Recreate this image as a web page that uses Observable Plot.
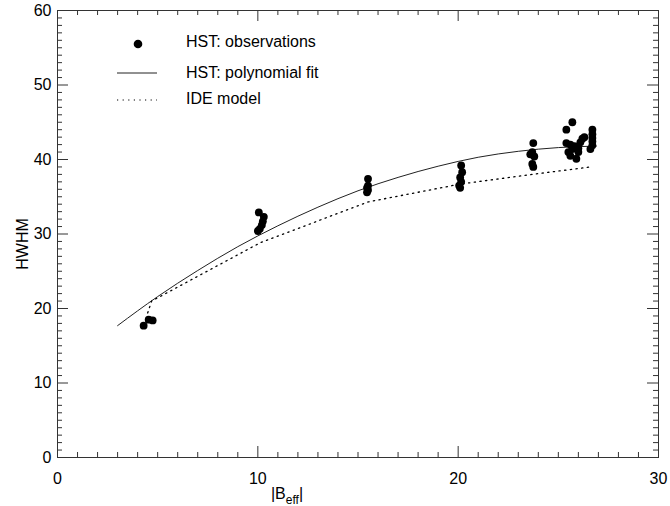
<!DOCTYPE html>
<html>
<head>
<meta charset="utf-8">
<script src="https://cdn.jsdelivr.net/npm/d3@7"></script>
<script src="https://cdn.jsdelivr.net/npm/@observablehq/plot@0.6"></script>
<style>
  body { margin: 0; background: #fff; }
  #chart svg { display: block; }
</style>
</head>
<body>
<div id="chart"></div>
<script>
// Observations (HST)
const obsX = [4.3, 4.55, 4.75,
  10.05, 10.3, 10.25, 10.2, 10.1, 10.0,
  15.5, 15.5, 15.45, 15.5, 15.45,
  20.15, 20.2, 20.1, 20.15, 20.05, 20.1,
  23.75, 23.7, 23.6, 23.8, 23.7, 23.75,
  25.4, 25.7, 25.4, 25.6, 25.7, 25.5, 25.6, 25.9, 25.8, 26.0, 26.1, 26.2, 26.3, 26.0,
  26.7, 26.7, 26.7, 26.7, 26.7, 26.6];
const obsY = [17.7, 18.5, 18.4,
  32.9, 32.3, 31.7, 31.2, 30.7, 30.4,
  37.4, 36.5, 36.2, 35.9, 35.6,
  39.2, 38.3, 37.6, 37.0, 36.5, 36.2,
  42.2, 41.0, 40.7, 40.4, 39.4, 39.0,
  44.0, 45.0, 42.2, 42.0, 41.4, 41.0, 40.5, 40.1, 41.8, 41.5, 42.3, 42.8, 43.0, 41.0,
  44.0, 43.4, 42.9, 42.4, 41.9, 41.4];

// HST polynomial fit
const fitX = [3, 5, 7, 9, 11, 13, 15, 17, 19, 21, 23, 25, 26.9];
const fitY = [17.7, 21.6, 25.1, 28.3, 31.1, 33.6, 35.8, 37.6, 39.1, 40.3, 41.1, 41.6, 41.8];

// IDE model
const ideX = [4.5, 4.7, 10.1, 15.5, 20.1, 23.7, 26.6];
const ideY = [19.4, 21.0, 28.8, 34.3, 36.7, 38.0, 39.0];

// Ticks
const xMajorTicks = [0, 10, 20, 30];
const yMajorTicks = [0, 10, 20, 30, 40, 50, 60];
const xMinorTicks = d3.range(1, 30).filter(v => v % 10 !== 0);
const yMinorTicks = d3.range(1, 60).filter(v => v % 10 !== 0);

const legendLabels = ["HST: observations", "HST: polynomial fit", "IDE model"];

const W = 670, H = 506;
const mL = 57, mR = 12, mT = 10, mB = 49;
const iW = W - mL - mR, iH = H - mT - mB;
const minorLen = 5, majorLen = 11;
const axisColor = "#333";
const font = "'Liberation Sans', Arial, Helvetica, sans-serif";

const obs = obsX.map((x, i) => ({x, y: obsY[i]}));
const fit = fitX.map((x, i) => ({x, y: fitY[i]}));
const ide = ideX.map((x, i) => ({x, y: ideY[i]}));

const chart = Plot.plot({
  width: W, height: H,
  marginLeft: mL, marginRight: mR, marginTop: mT, marginBottom: mB,
  style: {fontFamily: font, fontSize: "16px", color: "#000", background: "#fff"},
  x: {domain: [0, 30]},
  y: {domain: [0, 60]},
  marks: [
    // inward ticks on all four sides
    Plot.tickX(xMinorTicks, {insetTop: iH - minorLen, stroke: axisColor}),
    Plot.tickX(xMinorTicks, {insetBottom: iH - minorLen, stroke: axisColor}),
    Plot.tickX(xMajorTicks, {insetTop: iH - majorLen, stroke: axisColor}),
    Plot.tickX(xMajorTicks, {insetBottom: iH - majorLen, stroke: axisColor}),
    Plot.tickY(yMinorTicks, {insetRight: iW - minorLen, stroke: axisColor}),
    Plot.tickY(yMinorTicks, {insetLeft: iW - minorLen, stroke: axisColor}),
    Plot.tickY(yMajorTicks, {insetRight: iW - majorLen, stroke: axisColor}),
    Plot.tickY(yMajorTicks, {insetLeft: iW - majorLen, stroke: axisColor}),
    Plot.axisX({ticks: xMajorTicks, tickSize: 0, tickPadding: 15, fontSize: 16, label: null, tickFormat: d => String(d)}),
    Plot.axisY({ticks: yMajorTicks, tickSize: 0, tickPadding: 6, fontSize: 16, label: null, tickFormat: d => String(d)}),
    Plot.frame({stroke: axisColor, strokeWidth: 1}),
    Plot.line(fit, {x: "x", y: "y", stroke: "#222", strokeWidth: 1, curve: "monotone-x"}),
    Plot.line(ide, {x: "x", y: "y", stroke: "#000", strokeWidth: 1.3, strokeDasharray: "1.3,4.4"}),
    Plot.dot(obs, {x: "x", y: "y", r: 3.9, fill: "#000", stroke: "none"})
  ]
});

const svg = d3.select(chart);

// Legend
const lg = svg.append("g").attr("font-family", font).attr("font-size", 16)
  .attr("fill", "#000").attr("text-anchor", "start");
lg.append("circle").attr("cx", 138).attr("cy", 44).attr("r", 4.3).attr("fill", "#000");
lg.append("line").attr("x1", 117).attr("x2", 157).attr("y1", 73).attr("y2", 73)
  .attr("stroke", "#222").attr("stroke-width", 1);
lg.append("line").attr("x1", 117).attr("x2", 157).attr("y1", 100).attr("y2", 100)
  .attr("stroke", "#000").attr("stroke-width", 1.2).attr("stroke-dasharray", "1.2,4.4");
[41, 72, 98].forEach((yy, i) => {
  lg.append("text").attr("x", 186).attr("y", yy).attr("dy", "0.35em")
    .attr("text-anchor", "start").text(legendLabels[i]);
});

// Axis titles
const xt = svg.append("text").attr("font-family", font).attr("font-size", 16)
  .attr("text-anchor", "middle").attr("x", 287).attr("y", 499).attr("fill", "#000");
xt.append("tspan").text("|B");
xt.append("tspan").attr("font-size", 12).attr("dy", 5).text("eff");
xt.append("tspan").attr("dy", -5).text("|");

svg.append("text").attr("font-family", font).attr("font-size", 16)
  .attr("text-anchor", "middle").attr("fill", "#000")
  .attr("transform", "translate(22,244) rotate(-90)").attr("dy", "0.35em").text("HWHM");

document.getElementById("chart").appendChild(chart);
</script>
</body>
</html>
